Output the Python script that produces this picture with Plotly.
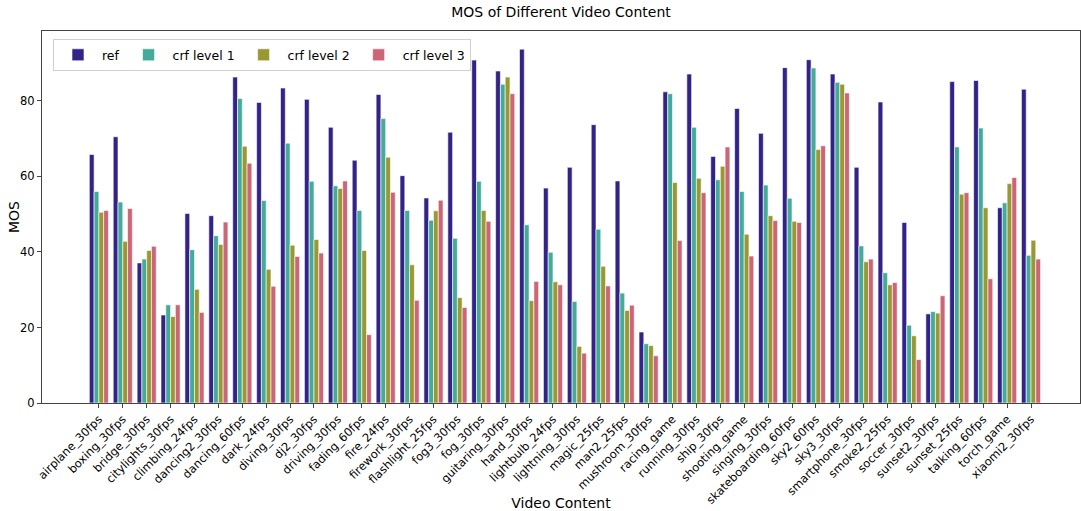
import plotly.graph_objects as go

categories = ["airplane_30fps", "boxing_30fps", "bridge_30fps", "citylights_30fps", "climbing_24fps",
              "dancing2_30fps", "dancing_60fps", "dark_24fps", "diving_30fps", "dj2_30fps",
              "driving_30fps", "fading_60fps", "fire_24fps", "firework_30fps", "flashlight_25fps",
              "fog3_30fps", "fog_30fps", "guitaring_30fps", "hand_30fps", "lightbulb_24fps",
              "lightning_30fps", "magic_25fps", "man2_25fps", "mushroom_30fps", "racing_game",
              "running_30fps", "ship_30fps", "shooting_game", "singing_30fps", "skateboarding_60fps",
              "sky2_60fps", "sky3_30fps", "smartphone_30fps", "smoke2_25fps", "soccer_30fps",
              "sunset2_30fps", "sunset_25fps", "talking_60fps", "torch_game", "xiaomi2_30fps"]

ref = [65.8, 70.5, 37.1, 23.3, 50.2, 49.6, 86.3, 79.6, 83.4, 80.4,
       73.0, 64.3, 81.7, 60.2, 54.3, 71.7, 90.8, 87.9, 93.7, 56.9,
       62.4, 73.7, 58.8, 18.8, 82.4, 87.1, 65.3, 78.0, 71.4, 88.8,
       90.9, 87.1, 62.4, 79.7, 47.8, 23.6, 85.1, 85.4, 51.7, 83.1]
crf1 = [56.0, 53.2, 38.1, 26.0, 40.6, 44.3, 80.6, 53.6, 68.8, 58.7,
        57.5, 51.0, 75.3, 51.0, 48.4, 43.6, 58.7, 84.4, 47.2, 39.9,
        26.9, 46.0, 29.1, 15.7, 81.9, 73.0, 59.1, 56.0, 57.7, 54.2,
        88.7, 84.9, 41.6, 34.5, 20.6, 24.2, 67.8, 72.8, 53.0, 39.1]
crf2 = [50.5, 42.8, 40.4, 22.9, 30.1, 42.0, 68.0, 35.4, 41.8, 43.3,
        56.8, 40.4, 65.1, 36.6, 50.9, 27.9, 51.0, 86.3, 27.1, 32.1,
        15.0, 36.2, 24.5, 15.2, 58.4, 59.5, 62.7, 44.7, 49.6, 48.1,
        67.1, 84.4, 37.4, 31.3, 17.8, 23.8, 55.3, 51.7, 58.1, 43.1]
crf3 = [51.0, 51.5, 41.5, 26.0, 24.0, 47.9, 63.5, 30.9, 38.8, 39.7,
        58.8, 18.1, 55.8, 27.2, 53.7, 25.3, 48.1, 81.9, 32.2, 31.3,
        13.2, 31.0, 25.9, 12.5, 43.0, 55.7, 67.8, 38.9, 48.3, 47.8,
        68.1, 82.1, 38.1, 31.9, 11.5, 28.4, 55.7, 32.9, 59.7, 38.1]

series_names = ["ref", "crf level 1", "crf level 2", "crf level 3"]
series_values = [ref, crf1, crf2, crf3]
colors = ["#332288", "#44AA99", "#999933", "#CC6677"]

fig = go.Figure()
for name, vals, c in zip(series_names, series_values, colors):
    fig.add_trace(go.Bar(x=categories, y=vals, name=name, marker_color=c,
                         marker_line=dict(color="white", width=0.6)))

font = "DejaVu Sans"
fig.update_layout(
    width=1081, height=511,
    margin=dict(l=42, r=1, t=31, b=108),
    barmode="group", bargap=0.2, bargroupgap=0,
    plot_bgcolor="white", paper_bgcolor="white",
    font=dict(family=font, color="black", size=11),
    title=dict(text="MOS of Different Video Content", x=0.5, xanchor="center",
               xref="paper", y=0.977, yref="container", yanchor="middle",
               font=dict(size=14, family=font)),
    legend=dict(orientation="h", x=0.0106, y=0.978, xanchor="left", yanchor="top",
                bgcolor="rgba(255,255,255,0.8)", bordercolor="#d0d0d0", borderwidth=1,
                font=dict(size=12.5, family=font), itemwidth=38, tracegroupgap=0),
    xaxis=dict(type="category", range=[-2.38, 41.05], tickangle=-45, automargin=False,
               showline=True, linecolor="#444", linewidth=1, mirror=True,
               ticks="outside", ticklen=4, tickcolor="#444",
               tickfont=dict(size=11.5, family=font),
               title=dict(text="Video Content", font=dict(size=14, family=font), standoff=4),
               showgrid=False),
    yaxis=dict(range=[0, 98.5], tickvals=[0, 20, 40, 60, 80], automargin=False,
               showline=True, linecolor="#444", linewidth=1, mirror=True,
               ticks="outside", ticklen=4, tickcolor="#444",
               tickfont=dict(size=11.5, family=font),
               showgrid=False, zeroline=False),
    annotations=[dict(text="MOS", xref="paper", yref="paper", x=(14 - 42) / 1038, y=0.5,
                      xanchor="center", yanchor="middle", textangle=-90, showarrow=False,
                      font=dict(size=14, family=font))],
)

fig.write_html("out.html", config={"displayModeBar": False},
               post_script="document.body.style.margin='0';document.body.style.overflow='hidden';")
